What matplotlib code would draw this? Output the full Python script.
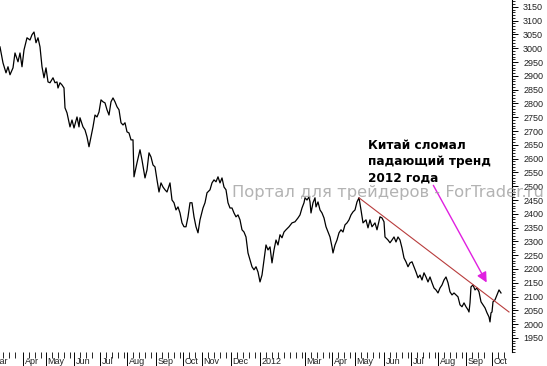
import numpy as np
import matplotlib
matplotlib.use("Agg")
import matplotlib.pyplot as plt
from matplotlib.ticker import MultipleLocator

# Shanghai composite, daily closes (trading-session index)
t = [0, 3, 6, 8, 10, 13, 15, 18, 20, 22,
     24, 27, 30, 32, 34, 36, 38, 40, 42, 44,
     46, 48, 50, 53, 55, 57, 58, 60, 62, 64,
     65, 67, 70, 72, 74, 77, 79, 80, 83, 85,
     87, 89, 91, 93, 95, 97, 99, 101, 103, 105,
     107, 109, 111, 113, 115, 117, 119, 121, 123, 125,
     127, 129, 131, 133, 134, 137, 140, 142, 145, 147,
     149, 151, 153, 155, 157, 159, 161, 163, 165, 167,
     170, 172, 174, 176, 178, 180, 182, 184, 186, 188,
     190, 192, 194, 196, 198, 200, 203, 205, 207, 210,
     212, 214, 216, 218, 220, 222, 224, 226, 228, 230,
     232, 234, 236, 238, 240, 242, 244, 246, 248, 250,
     252, 254, 256, 258, 260, 262, 264, 266, 268, 270,
     272, 274, 276, 278, 280, 282, 284, 286, 289, 292,
     295, 298, 300, 302, 304, 305, 307, 309, 310, 311,
     313, 315, 316, 318, 320, 322, 324, 326, 328, 330,
     332, 333, 335, 337, 339, 341, 343, 345, 347, 349,
     351, 353, 355, 357, 359, 361, 363, 366, 368, 370,
     372, 375, 377, 380, 382, 384, 385, 388, 390, 392,
     394, 396, 398, 400, 402, 404, 406, 408, 410, 412,
     414, 416, 418, 420, 422, 424, 426, 428, 430, 432,
     434, 436, 438, 440, 442, 444, 446, 448, 450, 452,
     454, 456, 458, 460, 462, 464, 466, 468, 469, 470,
     471, 473, 475, 477, 479, 481, 483, 485, 487, 489,
     490, 491, 492, 493, 495, 497, 499, 501]

close = [3005, 2947, 2911, 2933, 2904, 2929, 2983, 2951, 2983, 2933,
         2994, 3038, 3030, 3049, 3059, 3020, 3038, 3005, 2933, 2893,
         2929, 2878, 2875, 2893, 2875, 2878, 2856, 2875, 2867, 2856,
         2784, 2766, 2715, 2740, 2711, 2751, 2715, 2748, 2715, 2704,
         2679, 2643, 2679, 2715, 2758, 2751, 2769, 2813, 2806, 2802,
         2777, 2758, 2806, 2820, 2806, 2788, 2777, 2730, 2722, 2730,
         2697, 2693, 2668, 2668, 2534, 2585, 2632, 2595, 2530, 2559,
         2621, 2606, 2577, 2570, 2523, 2479, 2512, 2497, 2487, 2479,
         2512, 2450, 2440, 2414, 2425, 2403, 2367, 2353, 2353, 2389,
         2440, 2440, 2389, 2353, 2331, 2378, 2421, 2440, 2476, 2487,
         2512, 2523, 2516, 2534, 2512, 2530, 2497, 2487, 2440, 2421,
         2421, 2403, 2389, 2396, 2378, 2342, 2334, 2316, 2258, 2233,
         2208, 2197, 2208, 2189, 2153, 2178, 2233, 2287, 2269, 2280,
         2222, 2269, 2305, 2287, 2324, 2313, 2334, 2342, 2353, 2367,
         2371, 2385, 2396, 2421, 2440, 2458, 2450, 2461, 2443, 2403,
         2440, 2458, 2425, 2443, 2414, 2403, 2385, 2353, 2334, 2316,
         2280, 2258, 2287, 2305, 2331, 2342, 2334, 2360, 2367, 2378,
         2396, 2407, 2414, 2443, 2458, 2414, 2367, 2378, 2349, 2378,
         2353, 2367, 2342, 2389, 2385, 2371, 2316, 2305, 2295, 2305,
         2316, 2298, 2316, 2305, 2276, 2240, 2226, 2208, 2222, 2226,
         2208, 2189, 2168, 2178, 2160, 2186, 2171, 2153, 2171, 2150,
         2131, 2124, 2113, 2131, 2142, 2160, 2171, 2150, 2117, 2106,
         2113, 2106, 2099, 2070, 2063, 2077, 2063, 2052, 2044, 2077,
         2135, 2142, 2124, 2131, 2117, 2081, 2070, 2059, 2041, 2026,
         2008, 2041, 2044, 2081, 2088, 2106, 2124, 2113]

month_t = [-9, 23, 46, 74, 100, 127, 156, 183, 202, 231, 260,
           305, 332, 355, 384, 411, 438, 466, 492]
month_labels = ["Mar", "Apr", "May", "Jun", "Jul", "Aug", "Sep", "Oct", "Nov",
                "Dec", "2012", "Mar", "Apr", "May", "Jun", "Jul", "Aug", "Sep", "Oct"]

# trend line from the May 2012 high
trend_t = [359, 509]
trend_v = [2458, 2044]

fig = plt.figure(figsize=(5.47, 3.66), dpi=100)
ax = fig.add_axes([0, 14 / 366, 512 / 547, 352 / 366])

ax.plot(t, close, color="black", lw=0.9)
ax.plot(trend_t, trend_v, color="#b83c3c", lw=0.8)

for s in ["left", "top", "bottom"]:
    ax.spines[s].set_visible(False)
ax.spines["right"].set_linewidth(0.8)

# right price axis
ax.yaxis.tick_right()
ax.set_yticks(np.arange(1950, 3151, 50))
ax.yaxis.set_minor_locator(MultipleLocator(10))
ax.tick_params(axis="y", which="major", length=4, width=0.7, pad=4,
               labelsize=6.5, labelcolor="#222222")
ax.tick_params(axis="y", which="minor", length=2, width=0.6)
for lab in ax.get_yticklabels():
    lab.set_family("Liberation Sans")

# month separators and weekly ticks
weeks = []
edges = month_t + [512]
for a, b in zip(edges[:-1], edges[1:]):
    w = a + 6
    while w < b - 2:
        weeks.append(w)
        w += 6
ax.set_xticks(month_t)
ax.set_xticklabels([])
ax.set_xticks(weeks, minor=True)
ax.tick_params(axis="x", which="major", length=13, width=0.7)
ax.tick_params(axis="x", which="minor", length=4, width=0.6)

ax.set_xlim(0, 512)
ax.set_ylim(1899, 3175)

for m, lab in zip(month_t, month_labels):
    ax.text(m + 1.5, -0.026, lab, transform=ax.get_xaxis_transform(),
            fontsize=6.5, family="Liberation Sans", ha="left", va="center",
            color="#222222", clip_on=False)

ax.text(368, 2672, "Китай сломал\nпадающий тренд\n2012 года",
        fontsize=8.7, fontweight="bold", ha="left", va="top", linespacing=1.35)

ax.annotate("", xy=(488, 2142), xytext=(432, 2512),
            arrowprops=dict(arrowstyle="-|>", color="#e020e0", lw=1,
                            mutation_scale=15))

fig.text(232 / 547, 1 - 193 / 366, "Портал для трейдеров - ForTrader.ru",
         fontsize=11.8, color="#a0a0a0", alpha=0.8, ha="left", va="center")

fig.savefig("out.png", dpi=100)
